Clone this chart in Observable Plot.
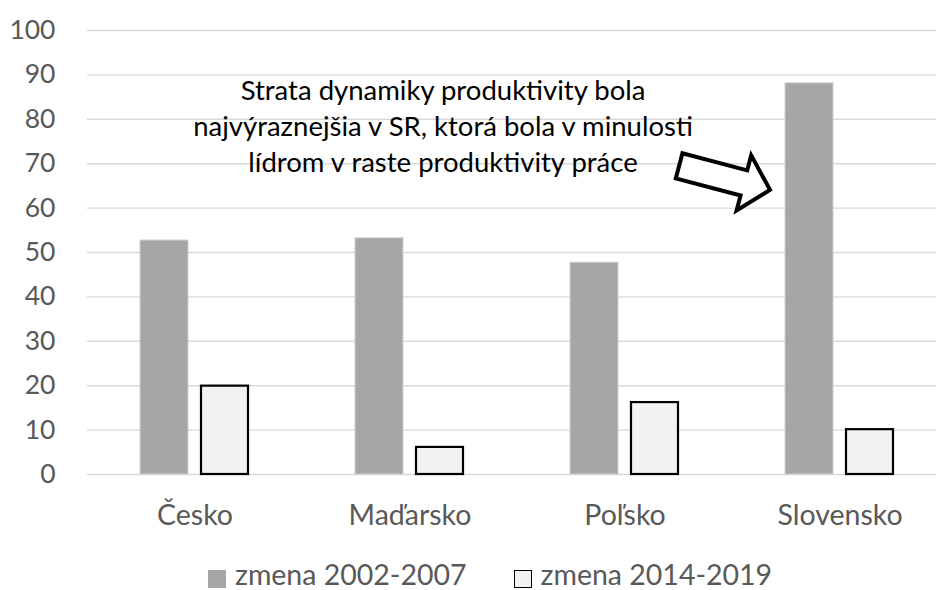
<!DOCTYPE html>
<html>
<head>
<meta charset="utf-8">
<script src="https://cdn.jsdelivr.net/npm/d3@7"></script>
<script src="https://cdn.jsdelivr.net/npm/@observablehq/plot@0.6"></script>
<style>
  html, body { margin: 0; padding: 0; background: #fff; overflow: hidden; }
  #chart svg { display: block; }
  .legend { display: flex; align-items: flex-start; height: 60px; box-sizing: border-box; padding-top: 27px; padding-left: 208px;
            font-family: Lato, "Open Sans", sans-serif; font-size: 28.5px; line-height: normal; color: #595959; }
  .legend .item { display: flex; align-items: flex-start; margin-right: 47px; }
  .legend .sw { width: 18px; height: 18px; box-sizing: border-box; margin-right: 9px; margin-top: 13px; }
</style>
</head>
<body>
<div id="chart"></div>
<div class="legend" id="legend"></div>
<script>
const countries = ["Česko", "Maďarsko", "Poľsko", "Slovensko"];
const change2002_2007 = [52.7, 53.2, 47.7, 88.1];
const change2014_2019 = [19.9, 6.1, 16.2, 10.1];
const seriesNames = ["zmena 2002-2007", "zmena 2014-2019"];
const yTicks = [0, 10, 20, 30, 40, 50, 60, 70, 80, 90, 100];
const annotationText = "Strata dynamiky produktivity bola\nnajvýraznejšia v SR, ktorá bola v minulosti\nlídrom v raste produktivity práce";
const annotationAnchor = {country: "Maďarsko", value: 78.9};
const arrowTip = {country: "Slovensko", value: 64};

const data = countries.map((c, i) => ({country: c, a: change2002_2007[i], b: change2014_2019[i]}));

const FONT = "Lato, 'Open Sans', sans-serif";

function blockArrow(index, scales) {
  const bx = scales.x(arrowTip.country);
  const tx = bx + 38, ty = scales.y(arrowTip.value);
  const ang = 14.8 * Math.PI / 180;
  const L = 94, HL = 27, HW = 28.5, SW = 13;
  const local = [[-L, -SW], [-HL, -SW], [-HL, -HW], [0, 0], [-HL, HW], [-HL, SW], [-L, SW]];
  const c = Math.cos(ang), s = Math.sin(ang);
  const pts = local.map(([u, v]) => [tx + u * c - v * s, ty + u * s + v * c]);
  const poly = d3.create("svg:polygon")
    .attr("points", pts.map(p => p.join(",")).join(" "))
    .attr("fill", "#fff")
    .attr("stroke", "#000")
    .attr("stroke-width", 4)
    .attr("stroke-linejoin", "miter");
  return poly.node();
}

const chart = Plot.plot({
  width: 936,
  height: 530,
  marginLeft: 87,
  marginRight: 0,
  marginTop: 30,
  marginBottom: 56,
  style: {fontFamily: FONT, background: "#fff", overflow: "visible"},
  x: {domain: countries, range: [87, 947], padding: 0, label: null},
  y: {domain: [0, 100], label: null},
  marks: [
    Plot.ruleY(yTicks, {stroke: "#d9d9d9", strokeWidth: 1.4}),
    Plot.barY(data, {x: "country", y: "a", fill: "#a6a6a6", stroke: "#cfcfcf", strokeWidth: 1, insetLeft: 53, insetRight: 114}),
    Plot.barY(data, {x: "country", y: "b", fill: "#f2f2f2", stroke: "#000", strokeWidth: 2.2, insetLeft: 114, insetRight: 54}),
    Plot.axisY(yTicks, {tickSize: 0, tickPadding: 32, fontSize: 26.5, fill: "#595959", label: null}),
    Plot.axisX({tickSize: 0, tickPadding: 30, fontSize: 28.5, fill: "#595959", label: null}),
    Plot.text([annotationAnchor], {x: "country", y: "value", text: () => annotationText, dx: 33, fontSize: 27.5, fill: "#000", lineAnchor: "middle", lineHeight: 1.31, textAnchor: "middle"}),
    blockArrow
  ]
});
document.getElementById("chart").appendChild(chart);

const legendFills = [{bg: "#a6a6a6", border: "none"}, {bg: "#f2f2f2", border: "1.5px solid #000"}];
const legend = document.getElementById("legend");
seriesNames.forEach((name, i) => {
  const item = document.createElement("div");
  item.className = "item";
  const sw = document.createElement("div");
  sw.className = "sw";
  sw.style.background = legendFills[i].bg;
  sw.style.border = legendFills[i].border;
  const t = document.createElement("span");
  t.textContent = name;
  item.appendChild(sw);
  item.appendChild(t);
  legend.appendChild(item);
});
</script>
</body>
</html>
